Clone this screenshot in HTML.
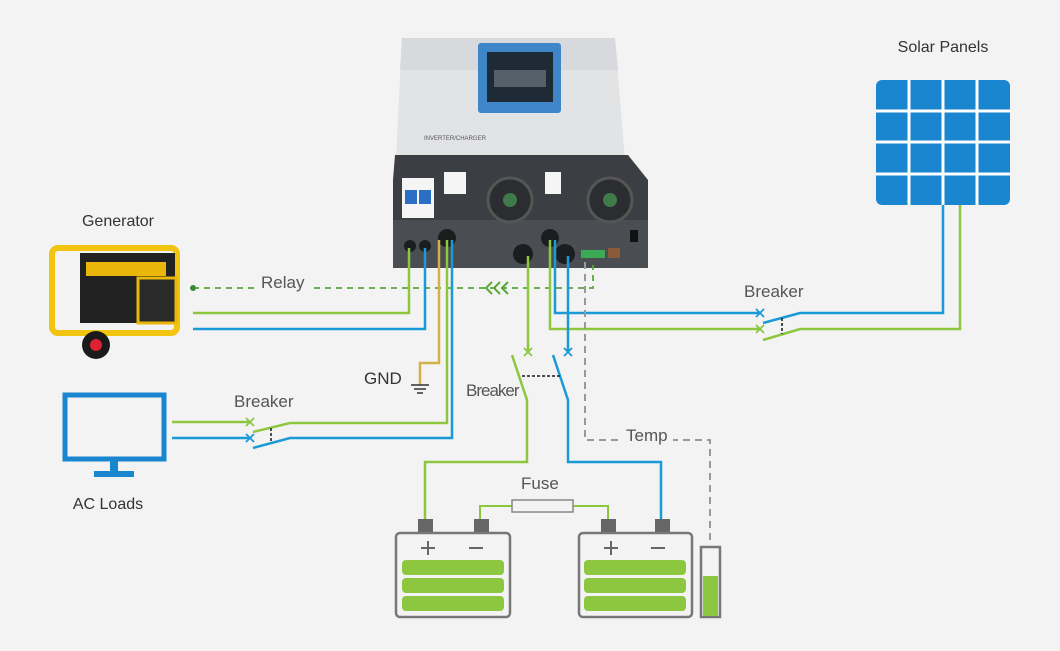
<!DOCTYPE html>
<html><head><style>
html,body{margin:0;padding:0;background:#f3f3f3;}
svg{display:block;font-family:"Liberation Sans",sans-serif;}
</style></head><body>
<svg width="1060" height="651" viewBox="0 0 1060 651">
<rect width="1060" height="651" fill="#f3f3f3"/>
<!-- Inverter -->
<polygon points="402,38 615,38 625,160 396,160" fill="#e2e3e5"/>
<polygon points="402,38 615,38 618,70 400,70" fill="#d8d9dc"/>
<rect x="478" y="43" width="83" height="70" rx="3" fill="#3f86c8"/>
<rect x="487" y="52" width="66" height="50" fill="#1e2a36"/>
<rect x="494" y="70" width="52" height="17" fill="#55606a"/>
<text x="424" y="140" font-size="6" fill="#555">INVERTER/CHARGER</text>
<polygon points="395,155 628,155 648,180 648,268 393,268 393,180" fill="#3b3e42"/>
<rect x="393" y="220" width="255" height="48" fill="#4a4d52"/>
<rect x="402" y="178" width="32" height="40" fill="#f5f5f5"/>
<rect x="405" y="190" width="12" height="14" fill="#2a6fc4"/>
<rect x="419" y="190" width="12" height="14" fill="#2a6fc4"/>
<rect x="444" y="172" width="22" height="22" fill="#f5f5f5"/>
<rect x="545" y="172" width="16" height="22" fill="#f5f5f5"/>
<circle cx="510" cy="200" r="22" fill="#2b2d30" stroke="#555" stroke-width="3"/>
<circle cx="610" cy="200" r="22" fill="#2b2d30" stroke="#555" stroke-width="3"/>
<circle cx="510" cy="200" r="7" fill="#3e7a4a"/>
<circle cx="610" cy="200" r="7" fill="#3e7a4a"/>
<circle cx="410" cy="246" r="6" fill="#1c1d1f"/><circle cx="425" cy="246" r="6" fill="#1c1d1f"/>
<circle cx="447" cy="238" r="9" fill="#1c1d1f"/><circle cx="550" cy="238" r="9" fill="#1c1d1f"/>
<circle cx="523" cy="254" r="10" fill="#1c1d1f"/><circle cx="565" cy="254" r="10" fill="#1c1d1f"/>
<rect x="581" y="250" width="24" height="8" fill="#3caa55"/>
<rect x="608" y="248" width="12" height="10" fill="#8a5a3a"/>
<rect x="630" y="230" width="8" height="12" fill="#111"/>
<!-- Generator -->
<rect x="52" y="248" width="125" height="85" rx="6" fill="none" stroke="#f1c40f" stroke-width="6"/>
<rect x="80" y="253" width="95" height="70" fill="#222"/>
<rect x="86" y="262" width="80" height="14" fill="#e8b70a"/>
<rect x="138" y="278" width="38" height="45" fill="#2a2a2a" stroke="#e8b70a" stroke-width="3"/>
<circle cx="96" cy="345" r="14" fill="#1a1a1a"/><circle cx="96" cy="345" r="6" fill="#d23"/>
<text x="118" y="226" font-size="16" fill="#333" text-anchor="middle">Generator</text>
<!-- Solar -->
<text x="943" y="52" font-size="16" fill="#333" text-anchor="middle">Solar Panels</text>
<rect x="876" y="80" width="134" height="125" rx="6" fill="#1a86d0"/>
<g stroke="#fff" stroke-width="3">
<line x1="909" y1="80" x2="909" y2="205"/><line x1="943" y1="80" x2="943" y2="205"/><line x1="977" y1="80" x2="977" y2="205"/>
<line x1="876" y1="111" x2="1010" y2="111"/><line x1="876" y1="142" x2="1010" y2="142"/><line x1="876" y1="174" x2="1010" y2="174"/>
</g>
<!-- AC loads -->
<rect x="65" y="395" width="99" height="64" fill="none" stroke="#1a86d0" stroke-width="5"/>
<rect x="110" y="459" width="8" height="14" fill="#1a86d0"/>
<rect x="94" y="471" width="40" height="6" fill="#1a86d0"/>
<text x="108" y="509" font-size="16" fill="#333" text-anchor="middle">AC Loads</text>
<g fill="none" stroke-width="2.5">
<polyline points="193,288 593,288 593,265" stroke="#5aa83a" stroke-dasharray="6,5" stroke-width="1.8"/>
<polyline points="193,313 409,313 409,248" stroke="#8dc63f"/>
<polyline points="193,329 425,329 425,248" stroke="#1a9ad6"/>
<polyline points="439,240 439,363 420,363 420,385" stroke="#d4b04a"/>
<polyline points="172,422 250,422" stroke="#8dc63f"/>
<polyline points="253,432 290,423 447,423 447,240" stroke="#8dc63f"/>
<polyline points="172,438 250,438" stroke="#1a9ad6"/>
<polyline points="253,448 290,438 452,438 452,240" stroke="#1a9ad6"/>
<polyline points="550,240 550,329 760,329" stroke="#8dc63f"/>
<polyline points="763,340 800,329 960,329 960,205" stroke="#8dc63f"/>
<polyline points="555,240 555,313 760,313" stroke="#1a9ad6"/>
<polyline points="763,323 800,313 943,313 943,205" stroke="#1a9ad6"/>
<polyline points="528,256 528,352" stroke="#8dc63f"/>
<polyline points="512,355 527,400 527,462 425,462 425,520" stroke="#8dc63f"/>
<polyline points="568,256 568,352" stroke="#1a9ad6"/>
<polyline points="553,355 568,400 568,462 661,462 661,520" stroke="#1a9ad6"/>
<polyline points="480,520 480,506 608,506 608,520" stroke="#8dc63f" stroke-width="2"/>
</g>
<g stroke="#1a1a1a" stroke-width="1.5" stroke-dasharray="3,2" fill="none">
<line x1="271" y1="428" x2="271" y2="443"/>
<line x1="782" y1="318" x2="782" y2="334"/>
<line x1="522" y1="376" x2="560" y2="376"/>
</g>
<polyline points="585,262 585,440 710,440 710,545" fill="none" stroke="#999" stroke-width="2" stroke-dasharray="7,5"/>
<g stroke-width="1.8">
<path d="M246,418 l8,8 M254,418 l-8,8" stroke="#8dc63f"/>
<path d="M246,434 l8,8 M254,434 l-8,8" stroke="#1a9ad6"/>
<path d="M756,309 l8,8 M764,309 l-8,8" stroke="#1a9ad6"/>
<path d="M756,325 l8,8 M764,325 l-8,8" stroke="#8dc63f"/>
<path d="M524,348 l8,8 M532,348 l-8,8" stroke="#8dc63f"/>
<path d="M564,348 l8,8 M572,348 l-8,8" stroke="#1a9ad6"/>
</g>
<g stroke="#5aa83a" stroke-width="2" fill="none"><path d="M492,282 l-6,6 6,6 M500,282 l-6,6 6,6 M508,282 l-6,6 6,6"/></g>
<circle cx="193" cy="288" r="3" fill="#3a8a3a"/>
<g stroke="#333" stroke-width="1.5"><line x1="411" y1="385" x2="429" y2="385"/><line x1="414" y1="389" x2="426" y2="389"/><line x1="417" y1="393" x2="423" y2="393"/></g>
<rect x="256" y="276" width="54" height="20" fill="#f3f3f3"/>
<rect x="621" y="430" width="52" height="20" fill="#f3f3f3"/>
<g font-size="17" fill="#555">
<text x="261" y="288">Relay</text>
<text x="364" y="384" fill="#333">GND</text>
<text x="234" y="407">Breaker</text>
<text x="744" y="297">Breaker</text>
<text x="466" y="396" letter-spacing="-1">Breaker</text>
<text x="626" y="441">Temp</text>
<text x="521" y="489">Fuse</text>
</g>
<rect x="512" y="500" width="61" height="12" fill="#f3f3f3" stroke="#888" stroke-width="1.5"/>
<g>
<rect x="418" y="519" width="15" height="14" fill="#666"/><rect x="474" y="519" width="15" height="14" fill="#666"/>
<rect x="396" y="533" width="114" height="84" rx="4" fill="#f3f3f3" stroke="#777" stroke-width="2.5"/>
<rect x="402" y="560" width="102" height="15" rx="4" fill="#8dc63f"/>
<rect x="402" y="578" width="102" height="15" rx="4" fill="#8dc63f"/>
<rect x="402" y="596" width="102" height="15" rx="4" fill="#8dc63f"/>
<rect x="601" y="519" width="15" height="14" fill="#666"/><rect x="655" y="519" width="15" height="14" fill="#666"/>
<rect x="579" y="533" width="113" height="84" rx="4" fill="#f3f3f3" stroke="#777" stroke-width="2.5"/>
<rect x="584" y="560" width="102" height="15" rx="4" fill="#8dc63f"/>
<rect x="584" y="578" width="102" height="15" rx="4" fill="#8dc63f"/>
<rect x="584" y="596" width="102" height="15" rx="4" fill="#8dc63f"/>
<rect x="701" y="547" width="19" height="70" fill="#f3f3f3" stroke="#777" stroke-width="2.5"/>
<rect x="703" y="576" width="15" height="40" fill="#8dc63f"/>
<g stroke="#666" stroke-width="2"><path d="M421,548 h14 M428,541 v14 M469,548 h14 M604,548 h14 M611,541 v14 M651,548 h14"/></g>
</g>
</svg>
</body></html>
